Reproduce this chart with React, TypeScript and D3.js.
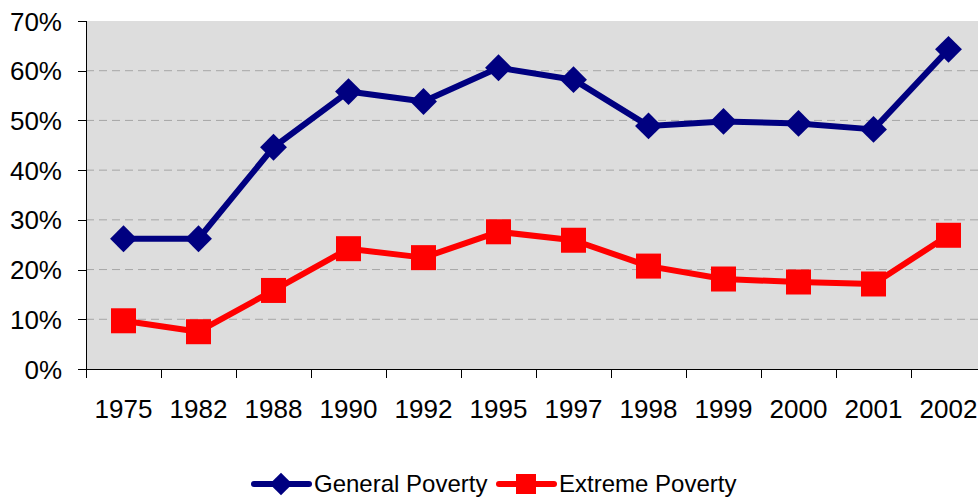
import * as d3 from "d3";
import { FC } from "react";

const YEARS: string[] = [
  "1975", "1982", "1988", "1990", "1992", "1995",
  "1997", "1998", "1999", "2000", "2001", "2002",
];
const GENERAL: number[] = [
  0.262, 0.262, 0.446, 0.558, 0.538, 0.606, 0.582, 0.489, 0.498, 0.494, 0.482, 0.643,
];
const EXTREME: number[] = [
  0.097, 0.075, 0.158, 0.242, 0.224, 0.276, 0.259, 0.207, 0.181, 0.175, 0.171, 0.269,
];
const Y_TICKS: number[] = [0, 0.1, 0.2, 0.3, 0.4, 0.5, 0.6, 0.7];

const W = 978;
const H = 497;
const FONT = "Liberation Sans, Arial, sans-serif";
const NAVY = "#000080";
const RED = "#ff0000";

const App: FC = () => {
  const x = d3.scaleBand<string>().domain(YEARS).range([86, 986]).padding(0);
  const y = d3.scaleLinear().domain([0, 0.7]).range([369, 21]);
  const cx = (d: string) => (x(d) ?? 0) + x.bandwidth() / 2;

  const line = d3
    .line<number>()
    .x((_, i) => cx(YEARS[i]))
    .y((d) => y(d));

  const left = x.range()[0];
  const bottom = y(0);
  const top = y(0.7);

  return (
    <div style={{ position: "absolute", left: 0, top: 0 }}>
      <svg width={W} height={H} style={{ display: "block" }}>
        <rect x={left} y={top} width={W - left} height={bottom - top} fill="#dddddd" />
        {Y_TICKS.filter((t) => t > 0 && t < 0.7).map((t) => (
          <line
            key={t}
            x1={left}
            x2={W}
            y1={y(t)}
            y2={y(t)}
            stroke="#a6a6a6"
            strokeWidth={1}
            strokeDasharray="8,5"
          />
        ))}
        {/* axes */}
        <line x1={left + 0.5} x2={left + 0.5} y1={top} y2={bottom + 9} stroke="#000" />
        <line x1={left} x2={W} y1={bottom + 0.5} y2={bottom + 0.5} stroke="#000" />
        {Y_TICKS.map((t) => (
          <g key={t}>
            <line x1={left - 8} x2={left} y1={Math.round(y(t)) + 0.5} y2={Math.round(y(t)) + 0.5} stroke="#000" />
            <text
              x={62}
              y={y(t) + 9.5}
              textAnchor="end"
              fontFamily={FONT}
              fontSize={26}
              fill="#000"
            >
              {d3.format(".0%")(t)}
            </text>
          </g>
        ))}
        {YEARS.map((yr) => (
          <g key={yr}>
            <line
              x1={Math.round((x(yr) ?? 0) + x.bandwidth()) + 0.5}
              x2={Math.round((x(yr) ?? 0) + x.bandwidth()) + 0.5}
              y1={bottom}
              y2={bottom + 9}
              stroke="#000"
            />
            <text
              x={cx(yr)}
              y={418}
              textAnchor="middle"
              fontFamily={FONT}
              fontSize={26}
              fill="#000"
            >
              {yr}
            </text>
          </g>
        ))}
        {/* series */}
        <path d={line(GENERAL) ?? ""} fill="none" stroke={NAVY} strokeWidth={6} strokeLinejoin="round" />
        {GENERAL.map((v, i) => (
          <rect
            key={i}
            x={-9.5}
            y={-9.5}
            width={19}
            height={19}
            fill={NAVY}
            transform={`translate(${cx(YEARS[i])},${y(v)}) rotate(45)`}
          />
        ))}
        <path d={line(EXTREME) ?? ""} fill="none" stroke={RED} strokeWidth={6} strokeLinejoin="round" />
        {EXTREME.map((v, i) => (
          <rect key={i} x={cx(YEARS[i]) - 12.5} y={y(v) - 12.5} width={25} height={25} fill={RED} />
        ))}
        {/* legend */}
        <line x1={254} x2={309} y1={484} y2={484} stroke={NAVY} strokeWidth={6} strokeLinecap="round" />
        <rect x={-8} y={-8} width={16} height={16} fill={NAVY} transform="translate(281,484) rotate(45)" />
        <text x={314} y={492} fontFamily={FONT} fontSize={24} fill="#000">General Poverty</text>
        <line x1={499} x2={554} y1={484} y2={484} stroke={RED} strokeWidth={6} strokeLinecap="round" />
        <rect x={516} y={474} width={20} height={20} fill={RED} />
        <text x={559} y={492} fontFamily={FONT} fontSize={24} fill="#000">Extreme Poverty</text>
      </svg>
    </div>
  );
};

export default App;
